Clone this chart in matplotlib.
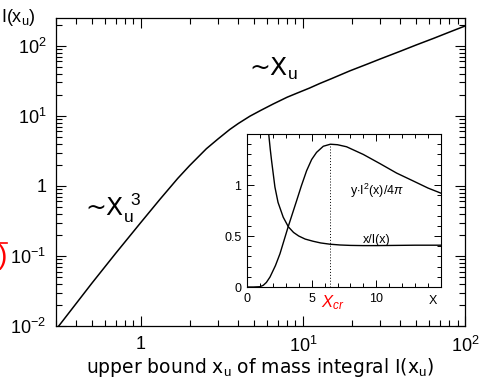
import matplotlib
matplotlib.use("Agg")
import matplotlib.pyplot as plt
from matplotlib.ticker import FixedLocator, LogLocator, MultipleLocator, NullFormatter
from matplotlib.lines import Line2D

plt.rcParams['font.family'] = ['Liberation Sans', 'DejaVu Sans']
plt.rcParams['mathtext.fontset'] = 'custom'
plt.rcParams['mathtext.rm'] = 'Liberation Sans'
plt.rcParams['mathtext.it'] = 'Liberation Sans:italic'
plt.rcParams['mathtext.bf'] = 'Liberation Sans:bold'

# mass integral I(x_u) of the isothermal sphere
xu = [0.3, 0.5, 0.7, 1.0, 1.31, 1.69, 2.0, 2.54, 3.0, 3.54, 4.0, 4.71, 5.5,
      6.56, 8.0, 9.14, 11.0, 12.7, 15.0, 19.5, 25.0, 30.0, 40.0, 50.0, 64.0,
      80.0, 100.0]
mass = [0.0089, 0.041, 0.109, 0.30, 0.64, 1.28, 1.95, 3.4, 4.7, 6.4, 7.8, 9.9,
        12.0, 14.8, 18.5, 21.0, 25.0, 29.0, 34.0, 44.0, 55.0, 65.0, 84.0,
        103.0, 128.0, 157.0, 192.0]

# inset: x/I(x)
x_ratio = [1.68, 1.8, 1.9, 2.0, 2.16, 2.4, 2.8, 3.2, 3.6, 4.0, 4.5, 5.1, 5.7,
           6.4, 7.2, 8.0, 9.0, 10.0, 11.5, 13.0, 15.0]
ratio = [1.50, 1.35, 1.24, 1.14, 0.98, 0.83, 0.685, 0.59, 0.535, 0.50, 0.47,
         0.449, 0.432, 0.42, 0.412, 0.408, 0.406, 0.406, 0.408, 0.41, 0.41]

# inset: y*I^2(x)/4pi
x_pres = [0.0, 0.5, 1.0, 1.26, 1.5, 1.78, 2.2, 2.55, 3.19, 3.84, 4.2, 4.61,
          5.0, 5.38, 5.9, 6.45, 7.0, 7.7, 8.3, 8.99, 10.28, 11.57, 12.85,
          14.0, 15.0]
pres = [0.0, 0.0, 0.003, 0.017, 0.045, 0.098, 0.21, 0.326, 0.593, 0.847,
        0.99, 1.14, 1.25, 1.32, 1.38, 1.40, 1.395, 1.375, 1.34, 1.30, 1.21,
        1.117, 1.04, 0.97, 0.92]

x_cr = 6.45
p_cr = 1.40

fig = plt.figure(figsize=(4.84, 3.79), dpi=100)
ax = fig.add_axes([0.1157, 0.1398, 0.845, 0.8127])
ax.plot(xu, mass, color='black', lw=1.1)
ax.set_xscale('log')
ax.set_yscale('log')
ax.set_xlim(0.3, 100)
ax.set_ylim(0.01, 250)

ax.xaxis.set_major_locator(FixedLocator([1, 10, 100]))
ax.set_xticklabels(['1', r'$10^{1}$', r'$10^{2}$'])
ax.xaxis.set_minor_locator(LogLocator(base=10, subs=range(2, 10)))
ax.xaxis.set_minor_formatter(NullFormatter())
ax.yaxis.set_major_locator(FixedLocator([0.01, 0.1, 1, 10, 100]))
ax.set_yticklabels([r'$10^{-2}$', r'$10^{-1}$', '1', r'$10^{1}$', r'$10^{2}$'])
ax.yaxis.set_minor_locator(LogLocator(base=10, subs=range(2, 10)))
ax.yaxis.set_minor_formatter(NullFormatter())
ax.tick_params(which='both', direction='in', top=True, right=True,
               labelsize=13, width=0.8)
ax.tick_params(which='major', length=7, pad=7)
ax.tick_params(which='minor', length=4)
for s in ax.spines.values():
    s.set_linewidth(0.9)

ax.set_xlabel(r'upper bound x$_\mathrm{u}$ of mass integral I(x$_\mathrm{u}$)',
              fontsize=13.5, family='DejaVu Sans', labelpad=0)
fig.text(0.003, 0.955, r'I(x$_\mathrm{u}$)', fontsize=13, ha='left', va='center')

ax.text(4.65, 47, r'~X$_\mathrm{u}$', fontsize=18, ha='left', va='center',
        family='DejaVu Sans')
ax.text(0.45, 0.48, r'~X$_\mathrm{u}^{\ \,3}$', fontsize=18, ha='left',
        va='center', family='DejaVu Sans')

# red fragment at the left margin
fig.text(-0.004, 0.322, ')', color='red', fontsize=20, ha='left', va='center')
fig.add_artist(Line2D([0.0, 0.014], [0.36, 0.36], color='red', lw=1.2))

# inset
ins = fig.add_axes([0.5103, 0.2427, 0.4008, 0.4037])
ins.plot(x_ratio, ratio, color='black', lw=1.0)
ins.plot(x_pres, pres, color='black', lw=1.0)
ins.plot([x_cr, x_cr], [0, p_cr], color='black', lw=0.7, ls=(0, (1, 2)))
ins.set_xlim(0, 15)
ins.set_ylim(0, 1.5)
ins.xaxis.set_major_locator(FixedLocator([0, 5, 10, 15]))
ins.set_xticklabels(['0', '5', '10', ''])
ins.xaxis.set_minor_locator(MultipleLocator(1))
ins.yaxis.set_major_locator(FixedLocator([0, 0.5, 1, 1.5]))
ins.set_yticklabels(['0', '0.5', '1', ''])
ins.yaxis.set_minor_locator(MultipleLocator(0.1))
ins.tick_params(which='both', direction='in', top=True, right=True,
                labelsize=9, width=0.7)
ins.tick_params(which='major', length=5, pad=4)
ins.tick_params(which='minor', length=3)
for s in ins.spines.values():
    s.set_linewidth(0.8)

ins.text(14.4, -0.075, 'X', fontsize=9, ha='center', va='top')
ins.text(x_cr + 0.2, -0.06, r'$X_{cr}$', color='red', fontsize=12,
         ha='center', va='top')
ins.text(7.95, 0.945, r'y$\cdot$I$^2$(x)/4$\pi$', fontsize=9, ha='left',
         va='center')
ins.text(8.95, 0.465, 'x/I(x)', fontsize=9, ha='left', va='center')

fig.savefig('out.png', dpi=100)
